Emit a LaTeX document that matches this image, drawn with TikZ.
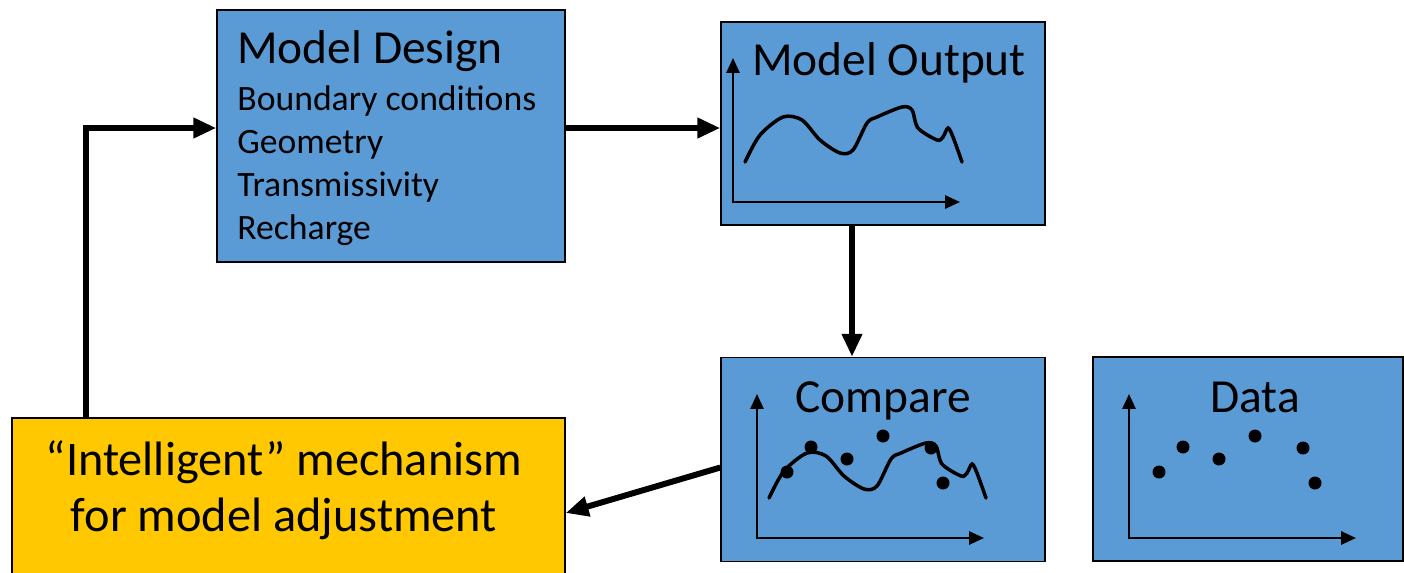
\documentclass[tikz,border=0pt]{standalone}
\usepackage{fontspec}
\setmainfont{Carlito}
\usetikzlibrary{positioning, arrows.meta}
\tikzstyle{pixelGrid} = [x = 0.02cm, y = -0.02cm]
\definecolor{boxColor}{RGB}{91,155,213}
\definecolor{adjustColor}{RGB}{255,200,0}
\tikzstyle{blockStyle} = [draw=black, fill=boxColor, line width=0.85pt, inner sep=0pt]
\tikzstyle{adjustStyle} = [blockStyle, fill=adjustColor]
\tikzstyle{flowArrow} = [line width=3.4pt, -{Triangle[length=13pt, width=11pt]}]
\tikzstyle{axisLine} = [line width=1.4pt, {Triangle[length=8.5pt, width=7.5pt]}-{Triangle[length=8.5pt, width=7.5pt]}]
\tikzstyle{curveLine} = [line width=2pt, line cap=round]
\tikzstyle{titleText} = [font=\fontsize{27}{31.7}\selectfont, inner sep=0pt]
\tikzstyle{listText} = [font=\fontsize{20.3}{24}\selectfont, inner sep=0pt]
\newcommand{\chartAxes}[2]{\draw [axisLine] (#1, #2 - 144) -- (#1, #2) -- (#1 + 227, #2);}
\newcommand{\modelCurve}[2]{\draw [curveLine, shift={(#1, #2)}] plot [smooth] coordinates {(12,-40) (27,-67) (50,-85) (69,-82) (87,-62) (107,-49) (120,-52) (134,-79) (144,-85) (169,-95) (179,-92) (185,-74) (204,-62) (210,-65) (215,-74) (220,-65) (229,-40)};}
\newcommand{\dataPoints}[2]{
  \foreach \px/\py in {30/-66, 54/-91, 90/-79, 126/-102, 174/-90, 186/-55} {
    \fill [shift={(#1, #2)}] (\px, \py) circle (0.13cm);
  }
}
\begin{document}
\begin{tikzpicture}[pixelGrid]
  \useasboundingbox (0,0) rectangle (1404,572);
  \node [blockStyle, minimum width=6.96cm, minimum height=5.04cm] (design) at (391,136) {};
  \node [blockStyle, minimum width=6.48cm, minimum height=4.06cm] (output) at (883,123.5) {};
  \node [blockStyle, minimum width=6.48cm, minimum height=4.08cm] (compare) at (883,459.5) {};
  \node [blockStyle, minimum width=6.2cm, minimum height=4.08cm] (data) at (1248,459) {};
  \node [adjustStyle, minimum width=11.06cm, minimum height=3.8cm] (adjust) at (288.5,513) {};

  \node [titleText, anchor=base west] (designTitle) at (237,63) {Model Design};
  \foreach \entry [count=\i] in {Boundary conditions, Geometry, Transmissivity, Recharge} {
    \node [listText, anchor=base west] (designEntry\i) at (237, {110 + 43.3 * (\i - 1)}) {\entry};
  }
  \node [titleText, anchor=base] (outputTitle) at (889,75) {Model Output};
  \node [titleText, anchor=base] (compareTitle) at (883,412) {Compare};
  \node [titleText, anchor=base] (dataTitle) at (1255,412) {Data};
  \node [titleText, font=\fontsize{27.5}{31.7}\selectfont, align=center] (adjustText) at (284,490) {“Intelligent” mechanism\\for model adjustment};

  % feedback loop and flow between blocks
  \coordinate (loopCorner) at (86,128);
  \coordinate (dropLine) at (852,225);
  \draw [flowArrow] (adjust.north -| loopCorner) -- (loopCorner) -- (loopCorner -| design.west);
  \draw [flowArrow] (design.east |- loopCorner) -- (output.west |- loopCorner);
  \draw [flowArrow] (output.south -| dropLine) -- (compare.north -| dropLine);
  \draw [flowArrow] ([yshift=-0.16cm]compare.west) -- (adjust.east);

  % small charts
  \chartAxes{733}{202}
  \modelCurve{733}{202}
  \chartAxes{757}{538}
  \modelCurve{757}{538}
  \dataPoints{757}{538}
  \chartAxes{1129}{538}
  \dataPoints{1129}{538}
\end{tikzpicture}
\end{document}
